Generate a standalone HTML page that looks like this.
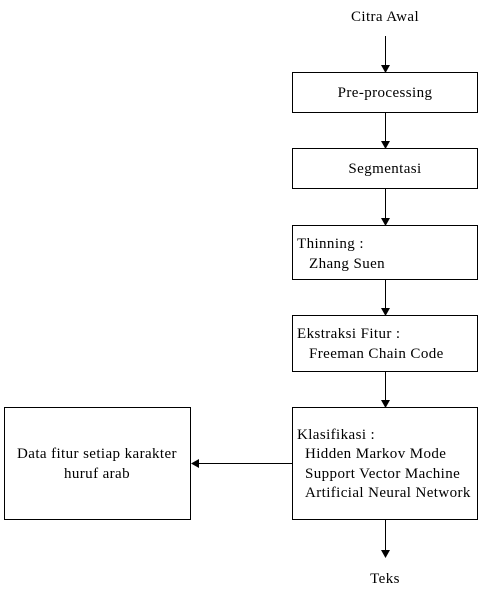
<!DOCTYPE html>
<html><head><meta charset="utf-8"><style>html,body{margin:0;padding:0;background:#fff}</style></head>
<body>
<svg width="484" height="603" xmlns="http://www.w3.org/2000/svg" fill="#000">
<g fill="none" stroke="#000" stroke-width="1">
<rect x="292.5" y="72.5" width="185" height="40"/>
<rect x="292.5" y="148.5" width="185" height="40"/>
<rect x="292.5" y="225.5" width="185" height="54"/>
<rect x="292.5" y="315.5" width="185" height="56"/>
<rect x="292.5" y="407.5" width="185" height="112"/>
<rect x="4.5" y="407.5" width="186" height="112"/>
<line x1="385.5" y1="36" x2="385.5" y2="66"/>
<line x1="385.5" y1="113" x2="385.5" y2="142"/>
<line x1="385.5" y1="189" x2="385.5" y2="219"/>
<line x1="385.5" y1="280" x2="385.5" y2="309"/>
<line x1="385.5" y1="372" x2="385.5" y2="401"/>
<line x1="385.5" y1="520" x2="385.5" y2="552"/>
<line x1="292" y1="463.5" x2="198" y2="463.5"/>
</g>
<g stroke="none">
<polygon points="381,65 390,65 385.5,73"/>
<polygon points="381,141 390,141 385.5,149"/>
<polygon points="381,218 390,218 385.5,226"/>
<polygon points="381,308 390,308 385.5,316"/>
<polygon points="381,400 390,400 385.5,408"/>
<polygon points="381,550 390,550 385.5,558"/>
<polygon points="199,459 199,468 191,463.5"/>
</g>
<g font-family="Liberation Serif, Times New Roman, serif" font-size="15" letter-spacing="0.4">
<text x="385" y="21" text-anchor="middle">Citra Awal</text>
<text x="385" y="97" text-anchor="middle">Pre-processing</text>
<text x="385" y="173" text-anchor="middle">Segmentasi</text>
<text x="297" y="248">Thinning :</text>
<text x="309" y="268">Zhang Suen</text>
<text x="297" y="338">Ekstraksi Fitur :</text>
<text x="309" y="358">Freeman Chain Code</text>
<text x="297" y="439">Klasifikasi :</text>
<text x="305" y="458">Hidden Markov Mode</text>
<text x="305" y="478">Support Vector Machine</text>
<text x="305" y="497">Artificial Neural Network</text>
<text x="97" y="458" text-anchor="middle">Data fitur setiap karakter</text>
<text x="97" y="478" text-anchor="middle">huruf arab</text>
<text x="385" y="583" text-anchor="middle">Teks</text>
</g>
</svg>
</body></html>
